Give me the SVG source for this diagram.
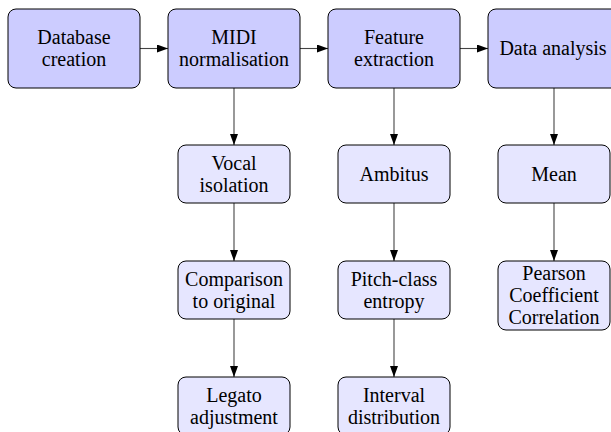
<svg xmlns="http://www.w3.org/2000/svg" width="611" height="432" viewBox="0 0 611 432">
<style>
.main{fill:#ccccff;stroke:#000;stroke-width:1}
.sub{fill:#e6e6ff;stroke:#000;stroke-width:1}
text{font-family:"Liberation Serif","Times New Roman",serif;font-size:20px;fill:#000;text-anchor:middle}
.conn{stroke:#444;stroke-width:1.1;fill:none;marker-end:url(#ah)}
</style>
<defs>
<marker id="ah" markerUnits="userSpaceOnUse" markerWidth="12" markerHeight="8" refX="11" refY="4" orient="auto">
<path d="M0,0 L11,4 L0,8 Z" fill="#000"/>
</marker>
</defs>
<rect width="611" height="432" fill="#fff"/>
<g id="connectors">
<line class="conn" x1="140" y1="48.5" x2="168" y2="48.5"/>
<line class="conn" x1="300" y1="48.5" x2="328" y2="48.5"/>
<line class="conn" x1="460" y1="48.5" x2="488" y2="48.5"/>
<line class="conn" x1="234" y1="88" x2="234" y2="145"/>
<line class="conn" x1="234" y1="203" x2="234" y2="261"/>
<line class="conn" x1="234" y1="319" x2="234" y2="377"/>
<line class="conn" x1="394" y1="88" x2="394" y2="145"/>
<line class="conn" x1="394" y1="203" x2="394" y2="261"/>
<line class="conn" x1="394" y1="319" x2="394" y2="377"/>
<line class="conn" x1="554" y1="88" x2="554" y2="145"/>
<line class="conn" x1="554" y1="203" x2="554" y2="261"/>
</g>
<g id="database">
<rect class="main" x="8" y="9" width="132" height="79" rx="8"/>
<text x="74" y="44.3">Database</text><text x="74" y="66">creation</text>
</g>
<g id="midi">
<rect class="main" x="168" y="9" width="132" height="79" rx="8"/>
<text x="234" y="44.3">MIDI</text><text x="234" y="66">normalisation</text>
</g>
<g id="feature">
<rect class="main" x="328" y="9" width="132" height="79" rx="8"/>
<text x="394" y="44.3">Feature</text><text x="394" y="66">extraction</text>
</g>
<g id="analysis">
<rect class="main" x="488" y="9" width="132" height="79" rx="8"/>
<text x="553" y="55.1">Data analysis</text>
</g>
<g id="vocal">
<rect class="sub" x="178" y="145" width="112" height="58" rx="8"/>
<text x="234" y="169.8">Vocal</text><text x="234" y="191.5">isolation</text>
</g>
<g id="comparison">
<rect class="sub" x="178" y="261" width="112" height="58" rx="8"/>
<text x="234" y="285.8">Comparison</text><text x="234" y="307.5">to original</text>
</g>
<g id="legato">
<rect class="sub" x="178" y="377" width="112" height="58" rx="8"/>
<text x="234" y="401.8">Legato</text><text x="234" y="423.5">adjustment</text>
</g>
<g id="ambitus">
<rect class="sub" x="338" y="145" width="112" height="58" rx="8"/>
<text x="394" y="180.6">Ambitus</text>
</g>
<g id="entropy">
<rect class="sub" x="338" y="261" width="112" height="58" rx="8"/>
<text x="394" y="285.8">Pitch-class</text><text x="394" y="307.5">entropy</text>
</g>
<g id="interval">
<rect class="sub" x="338" y="377" width="112" height="58" rx="8"/>
<text x="394" y="401.8">Interval</text><text x="394" y="423.5">distribution</text>
</g>
<g id="mean">
<rect class="sub" x="498" y="145" width="112" height="58" rx="8"/>
<text x="554" y="180.6">Mean</text>
</g>
<g id="pearson">
<rect class="sub" x="498" y="261" width="112" height="69" rx="8"/>
<text x="554" y="280.4">Pearson</text><text x="554" y="302.1">Coefficient</text><text x="554" y="323.8">Correlation</text>
</g>
</svg>
